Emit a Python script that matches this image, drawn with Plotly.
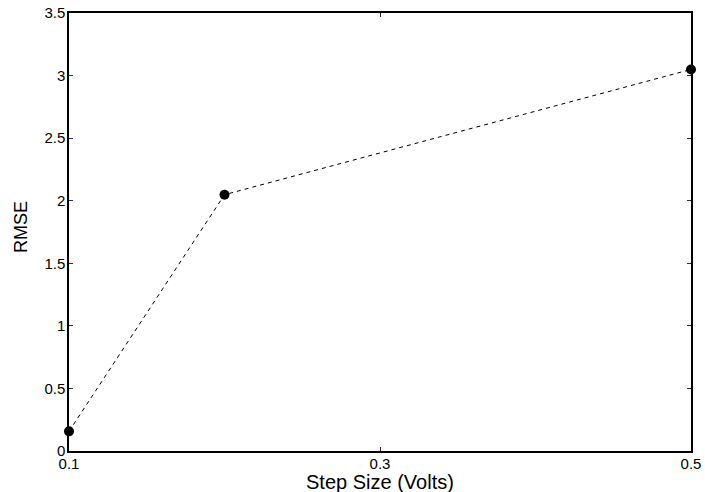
import plotly.graph_objects as go

step_size = [0.1, 0.2, 0.5]
rmse = [0.157, 2.048, 3.049]

x_ticks = [0.1, 0.3, 0.5]
x_tick_labels = ["0.1", "0.3", "0.5"]
y_ticks = [0, 0.5, 1, 1.5, 2, 2.5, 3, 3.5]
y_tick_labels = ["0", "0.5", "1", "1.5", "2", "2.5", "3", "3.5"]

x_title = "Step Size (Volts)"
y_title = "RMSE"

fig = go.Figure()
fig.add_trace(go.Scatter(
    x=step_size, y=rmse, mode="lines+markers",
    line=dict(color="black", width=1, dash="4px,4px"),
    marker=dict(color="black", size=10),
    cliponaxis=False, showlegend=False,
))

font = "Liberation Sans, Arial, Helvetica, sans-serif"
fig.update_layout(
    width=705, height=492,
    margin=dict(l=68.7, r=14, t=12.5, b=41.3),
    paper_bgcolor="white", plot_bgcolor="white",
    font=dict(family=font, size=15, color="black"),
    annotations=[
        dict(text=x_title, xref="paper", yref="paper", x=0.5, y=0,
             xanchor="center", yanchor="middle", yshift=-31,
             showarrow=False, font=dict(size=20)),
        dict(text=y_title, xref="paper", yref="paper", x=0, y=0.5,
             xanchor="center", yanchor="middle", xshift=-48, yshift=5,
             textangle=-90, showarrow=False, font=dict(size=18)),
    ],
)
fig.update_xaxes(
    range=[0.1, 0.5], tickvals=x_ticks, ticktext=x_tick_labels,
    ticks="inside", ticklen=4, tickwidth=1, tickcolor="#333",
    showline=True, linecolor="black", linewidth=1.5, mirror="ticks",
    showgrid=False, zeroline=False, automargin=False,
    tickfont=dict(size=15), ticklabelstandoff=-2,
)
fig.update_yaxes(
    range=[0, 3.5], tickvals=y_ticks, ticktext=y_tick_labels,
    ticks="inside", ticklen=4, tickwidth=1, tickcolor="#333",
    showline=True, linecolor="black", linewidth=1.5, mirror="ticks",
    showgrid=False, zeroline=False, automargin=False,
    tickfont=dict(size=15), ticklabelstandoff=-1,
)
fig.write_html("out.html")
